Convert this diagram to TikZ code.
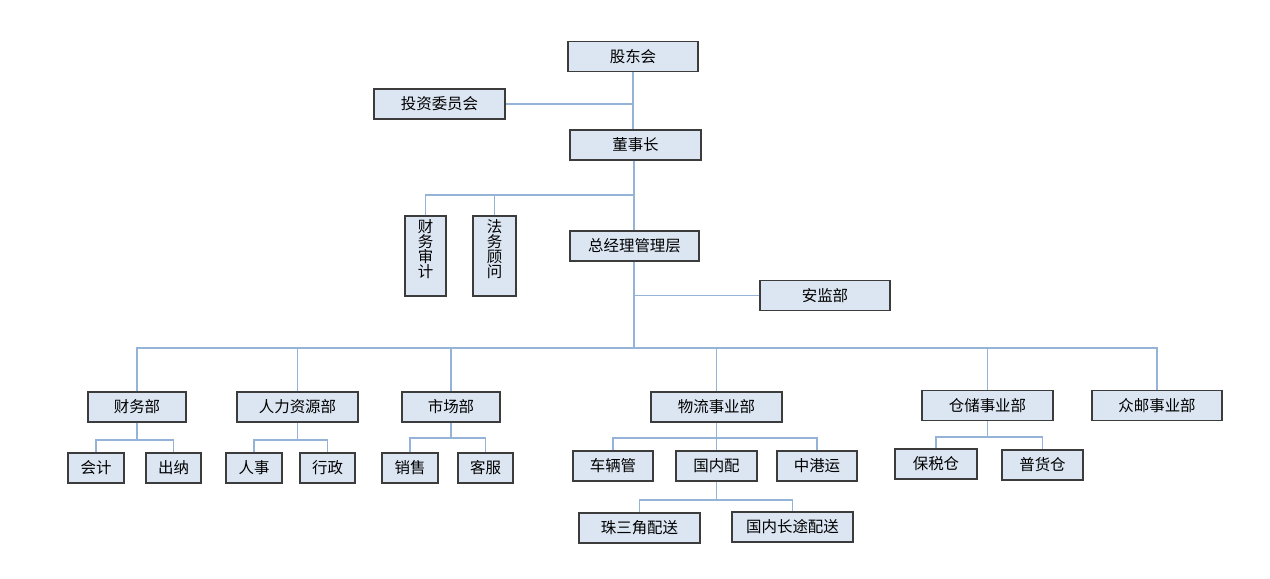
\documentclass[tikz,border=0pt]{standalone}
\usepackage{fontspec}
\setmainfont{Noto Sans CJK SC}
\usepackage{tikz}
\usetikzlibrary{positioning}
\definecolor{boxFill}{HTML}{DCE6F2}
\definecolor{boxLine}{HTML}{3C3C3C}
\definecolor{linkBlue}{HTML}{95B3D7}

\begin{document}
\begin{tikzpicture}[x=0.02cm, y=-0.02cm,
    box/.style={draw=boxLine, fill=boxFill, line width=0.8pt, minimum height=0.6cm,
        inner sep=1pt, font=\fontsize{8.8}{9}\selectfont},
    vbox/.style={box, minimum height=1.6cm, align=center, font=\fontsize{8.8}{8.6}\selectfont},
    link/.style={draw=linkBlue, line width=0.7pt}]
    \useasboundingbox (0,0) rectangle (1270,578);

    % top levels
    \node[box, minimum width=2.6cm] (board) at (633,56.5) {股东会};
    \node[box, minimum width=2.62cm] (invest) at (439.5,104) {投资委员会};
    \node[box, minimum width=2.62cm] (chair) at (635.5,145) {董事长};
    \node[vbox, minimum width=0.82cm] (audit) at (425.5,256) {财\\务\\审\\计\\~};
    \node[vbox, minimum width=0.86cm] (legal) at (494.5,256) {法\\务\\顾\\问\\~};
    \node[box, minimum width=2.58cm] (gm) at (634.5,246) {总经理管理层};
    \node[box, minimum width=2.6cm] (safety) at (825,295.5) {安监部};

    \coordinate (j1) at (634,195);
    \coordinate (bus) at (634,348);

    \draw[link] (board.south) -- (board.south |- chair.north);
    \draw[link] (invest.east) -- (invest.east -| board.south);
    \draw[link] (j1 |- chair.south) -- (j1 |- gm.north);
    \draw[link] (audit.north) |- (j1);
    \draw[link] (legal.north) |- (j1);
    \draw[link] (bus |- gm.south) -- (bus);
    \draw[link] (safety.west) -- (safety.west -| bus);

    % departments
    \node[box, minimum width=1.96cm] (fin) at (137,407) {财务部};
    \node[box, minimum width=2.42cm] (hr) at (297.5,407) {人力资源部};
    \node[box, minimum width=1.96cm] (mkt) at (451,407) {市场部};
    \node[box, minimum width=2.62cm] (logi) at (716.5,407) {物流事业部};
    \node[box, minimum width=2.62cm] (ware) at (987.5,405.5) {仓储事业部};
    \node[box, minimum width=2.6cm] (zy) at (1157,405.5) {众邮事业部};

    \foreach \d in {fin,hr,mkt,logi,ware,zy}
        \draw[link] (\d.north) |- (bus);

    % sections
    \node[box, minimum width=1.12cm] (acct) at (96,468) {会计};
    \node[box, minimum width=1.1cm] (cash) at (173.5,468) {出纳};
    \node[box, minimum width=1.12cm] (staff) at (254,468) {人事};
    \node[box, minimum width=1.1cm] (admin) at (327.5,468) {行政};
    \node[box, minimum width=1.12cm] (sales) at (410,468) {销售};
    \node[box, minimum width=1.1cm] (serv) at (485.5,468) {客服};
    \node[box, minimum width=1.6cm] (fleet) at (613,466) {车辆管};
    \node[box, minimum width=1.62cm] (dom) at (716.5,466) {国内配};
    \node[box, minimum width=1.6cm] (hk) at (817,466) {中港运};
    \node[box, minimum width=2.42cm] (prd) at (639.5,528) {珠三角配送};
    \node[box, minimum width=2.42cm] (long) at (792.5,527) {国内长途配送};
    \node[box, minimum width=1.64cm] (bond) at (936,464) {保税仓};
    \node[box, minimum width=1.62cm] (gen) at (1042.5,465) {普货仓};

    \draw[link] (fin.south) -- (fin.south |- 0,440);
    \draw[link] (acct.north) |- (fin.south |- 0,440) -| (cash.north);
    \draw[link] (hr.south) -- (hr.south |- 0,440);
    \draw[link] (staff.north) |- (hr.south |- 0,440) -| (admin.north);
    \draw[link] (mkt.south) -- (mkt.south |- 0,438);
    \draw[link] (sales.north) |- (mkt.south |- 0,438) -| (serv.north);
    \draw[link] (logi.south) -- (dom.north);
    \draw[link] (fleet.north) |- (logi.south |- 0,438) -| (hk.north);
    \draw[link] (dom.south) -- (dom.south |- 0,500);
    \draw[link] (prd.north) |- (dom.south |- 0,500) -| (long.north);
    \draw[link] (ware.south) -- (ware.south |- 0,437);
    \draw[link] (bond.north) |- (ware.south |- 0,437) -| (gen.north);
\end{tikzpicture}
\end{document}
